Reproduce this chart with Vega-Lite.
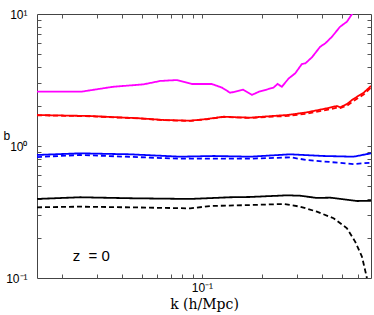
{
  "$schema": "https://vega.github.io/schema/vega-lite/v6.json",
  "width": 334,
  "height": 264,
  "autosize": {"type": "none"},
  "padding": {"left": 37, "top": 14, "right": 3, "bottom": 37},
  "background": "white",
  "config": {
    "view": {"stroke": "#444444", "strokeWidth": 1},
    "axis": {"grid": false, "labelFontSize": 12}
  },
  "datasets": {
    "curves": [
      {"k": 0.015, "b": 2.58, "c": "magenta", "s": "solid"},
      {"k": 0.025, "b": 2.58, "c": "magenta", "s": "solid"},
      {"k": 0.036, "b": 2.81, "c": "magenta", "s": "solid"},
      {"k": 0.051, "b": 2.93, "c": "magenta", "s": "solid"},
      {"k": 0.062, "b": 3.11, "c": "magenta", "s": "solid"},
      {"k": 0.075, "b": 3.16, "c": "magenta", "s": "solid"},
      {"k": 0.089, "b": 2.95, "c": "magenta", "s": "solid"},
      {"k": 0.112, "b": 2.95, "c": "magenta", "s": "solid"},
      {"k": 0.126, "b": 2.77, "c": "magenta", "s": "solid"},
      {"k": 0.1385, "b": 2.53, "c": "magenta", "s": "solid"},
      {"k": 0.161, "b": 2.67, "c": "magenta", "s": "solid"},
      {"k": 0.178, "b": 2.44, "c": "magenta", "s": "solid"},
      {"k": 0.192, "b": 2.57, "c": "magenta", "s": "solid"},
      {"k": 0.228, "b": 2.77, "c": "magenta", "s": "solid"},
      {"k": 0.239, "b": 2.95, "c": "magenta", "s": "solid"},
      {"k": 0.251, "b": 2.81, "c": "magenta", "s": "solid"},
      {"k": 0.271, "b": 3.24, "c": "magenta", "s": "solid"},
      {"k": 0.293, "b": 3.56, "c": "magenta", "s": "solid"},
      {"k": 0.316, "b": 4.18, "c": "magenta", "s": "solid"},
      {"k": 0.329, "b": 4.23, "c": "magenta", "s": "solid"},
      {"k": 0.355, "b": 4.70, "c": "magenta", "s": "solid"},
      {"k": 0.39, "b": 5.65, "c": "magenta", "s": "solid"},
      {"k": 0.414, "b": 6.0, "c": "magenta", "s": "solid"},
      {"k": 0.447, "b": 6.73, "c": "magenta", "s": "solid"},
      {"k": 0.49, "b": 8.0, "c": "magenta", "s": "solid"},
      {"k": 0.531, "b": 8.75, "c": "magenta", "s": "solid"},
      {"k": 0.57, "b": 10.3, "c": "magenta", "s": "solid"},

      {"k": 0.015, "b": 1.717, "c": "red", "s": "solid"},
      {"k": 0.0276, "b": 1.687, "c": "red", "s": "solid"},
      {"k": 0.0491, "b": 1.621, "c": "red", "s": "solid"},
      {"k": 0.0643, "b": 1.574, "c": "red", "s": "solid"},
      {"k": 0.0874, "b": 1.555, "c": "red", "s": "solid"},
      {"k": 0.1059, "b": 1.601, "c": "red", "s": "solid"},
      {"k": 0.1282, "b": 1.667, "c": "red", "s": "solid"},
      {"k": 0.1496, "b": 1.650, "c": "red", "s": "solid"},
      {"k": 0.1744, "b": 1.64, "c": "red", "s": "solid"},
      {"k": 0.228, "b": 1.69, "c": "red", "s": "solid"},
      {"k": 0.27, "b": 1.72, "c": "red", "s": "solid"},
      {"k": 0.335, "b": 1.80, "c": "red", "s": "solid"},
      {"k": 0.4217, "b": 1.93, "c": "red", "s": "solid"},
      {"k": 0.473, "b": 2.01, "c": "red", "s": "solid"},
      {"k": 0.4915, "b": 1.965, "c": "red", "s": "solid"},
      {"k": 0.5309, "b": 2.08, "c": "red", "s": "solid"},
      {"k": 0.5623, "b": 2.23, "c": "red", "s": "solid"},
      {"k": 0.5957, "b": 2.36, "c": "red", "s": "solid"},
      {"k": 0.6427, "b": 2.53, "c": "red", "s": "solid"},
      {"k": 0.70, "b": 2.85, "c": "red", "s": "solid"},

      {"k": 0.015, "b": 1.71, "c": "red", "s": "dashed"},
      {"k": 0.0276, "b": 1.68, "c": "red", "s": "dashed"},
      {"k": 0.0491, "b": 1.615, "c": "red", "s": "dashed"},
      {"k": 0.0643, "b": 1.57, "c": "red", "s": "dashed"},
      {"k": 0.0874, "b": 1.55, "c": "red", "s": "dashed"},
      {"k": 0.1059, "b": 1.595, "c": "red", "s": "dashed"},
      {"k": 0.1282, "b": 1.66, "c": "red", "s": "dashed"},
      {"k": 0.1496, "b": 1.645, "c": "red", "s": "dashed"},
      {"k": 0.1744, "b": 1.63, "c": "red", "s": "dashed"},
      {"k": 0.228, "b": 1.67, "c": "red", "s": "dashed"},
      {"k": 0.27, "b": 1.69, "c": "red", "s": "dashed"},
      {"k": 0.335, "b": 1.76, "c": "red", "s": "dashed"},
      {"k": 0.4217, "b": 1.88, "c": "red", "s": "dashed"},
      {"k": 0.473, "b": 1.95, "c": "red", "s": "dashed"},
      {"k": 0.4915, "b": 1.94, "c": "red", "s": "dashed"},
      {"k": 0.5309, "b": 2.02, "c": "red", "s": "dashed"},
      {"k": 0.5623, "b": 2.15, "c": "red", "s": "dashed"},
      {"k": 0.5957, "b": 2.28, "c": "red", "s": "dashed"},
      {"k": 0.6427, "b": 2.45, "c": "red", "s": "dashed"},
      {"k": 0.70, "b": 2.78, "c": "red", "s": "dashed"},

      {"k": 0.015, "b": 0.855, "c": "blue", "s": "solid"},
      {"k": 0.0246, "b": 0.880, "c": "blue", "s": "solid"},
      {"k": 0.0438, "b": 0.865, "c": "blue", "s": "solid"},
      {"k": 0.0779, "b": 0.830, "c": "blue", "s": "solid"},
      {"k": 0.1143, "b": 0.840, "c": "blue", "s": "solid"},
      {"k": 0.1744, "b": 0.830, "c": "blue", "s": "solid"},
      {"k": 0.2764, "b": 0.865, "c": "blue", "s": "solid"},
      {"k": 0.4055, "b": 0.840, "c": "blue", "s": "solid"},
      {"k": 0.5728, "b": 0.830, "c": "blue", "s": "solid"},
      {"k": 0.70, "b": 0.880, "c": "blue", "s": "solid"},

      {"k": 0.015, "b": 0.825, "c": "blue", "s": "dashed"},
      {"k": 0.0246, "b": 0.855, "c": "blue", "s": "dashed"},
      {"k": 0.0779, "b": 0.801, "c": "blue", "s": "dashed"},
      {"k": 0.1744, "b": 0.801, "c": "blue", "s": "dashed"},
      {"k": 0.2764, "b": 0.821, "c": "blue", "s": "dashed"},
      {"k": 0.335, "b": 0.783, "c": "blue", "s": "dashed"},
      {"k": 0.5728, "b": 0.730, "c": "blue", "s": "dashed"},
      {"k": 0.70, "b": 0.747, "c": "blue", "s": "dashed"},

      {"k": 0.015, "b": 0.397, "c": "black", "s": "solid"},
      {"k": 0.0246, "b": 0.409, "c": "black", "s": "solid"},
      {"k": 0.0438, "b": 0.402, "c": "black", "s": "solid"},
      {"k": 0.0874, "b": 0.397, "c": "black", "s": "solid"},
      {"k": 0.1385, "b": 0.409, "c": "black", "s": "solid"},
      {"k": 0.1744, "b": 0.411, "c": "black", "s": "solid"},
      {"k": 0.2661, "b": 0.423, "c": "black", "s": "solid"},
      {"k": 0.3103, "b": 0.420, "c": "black", "s": "solid"},
      {"k": 0.3758, "b": 0.404, "c": "black", "s": "solid"},
      {"k": 0.438, "b": 0.406, "c": "black", "s": "solid"},
      {"k": 0.5957, "b": 0.383, "c": "black", "s": "solid"},
      {"k": 0.70, "b": 0.385, "c": "black", "s": "solid"},

      {"k": 0.015, "b": 0.343, "c": "black", "s": "dashed"},
      {"k": 0.0246, "b": 0.347, "c": "black", "s": "dashed"},
      {"k": 0.0438, "b": 0.343, "c": "black", "s": "dashed"},
      {"k": 0.0874, "b": 0.337, "c": "black", "s": "dashed"},
      {"k": 0.110, "b": 0.351, "c": "black", "s": "dashed"},
      {"k": 0.1744, "b": 0.357, "c": "black", "s": "dashed"},
      {"k": 0.256, "b": 0.3636, "c": "black", "s": "dashed"},
      {"k": 0.3103, "b": 0.347, "c": "black", "s": "dashed"},
      {"k": 0.3758, "b": 0.318, "c": "black", "s": "dashed"},
      {"k": 0.455, "b": 0.2834, "c": "black", "s": "dashed"},
      {"k": 0.5309, "b": 0.238, "c": "black", "s": "dashed"},
      {"k": 0.5839, "b": 0.188, "c": "black", "s": "dashed"},
      {"k": 0.631, "b": 0.145, "c": "black", "s": "dashed"},
      {"k": 0.663, "b": 0.105, "c": "black", "s": "dashed"},
      {"k": 0.672, "b": 0.095, "c": "black", "s": "dashed"}
    ],
    "note": [{"k": 0.028, "b": 0.147, "label": "z\u00a0\u00a0= 0"}]
  },
  "layer": [
    {
      "data": {"name": "curves"},
      "mark": {"type": "line", "strokeWidth": 1.8, "clip": true},
      "encoding": {
        "x": {
          "field": "k", "type": "quantitative",
          "scale": {"type": "log", "domain": [0.015, 0.7], "nice": false},
          "axis": {
            "orient": "bottom",
            "values": [0.1],
            "labelExpr": "'10⁻¹'",
            "ticks": false,
            "domain": false,
            "labelFont": "Liberation Sans",
            "labelPadding": 4,
            "title": "k (h/Mpc)",
            "titleFont": "DejaVu Serif",
            "titleFontSize": 14,
            "titleFontWeight": "normal",
            "titleBaseline": "middle",
            "titleY": 26
          }
        },
        "y": {
          "field": "b", "type": "quantitative",
          "scale": {"type": "log", "domain": [0.1, 10], "nice": false},
          "axis": {
            "orient": "left",
            "values": [0.1, 1, 10],
            "labelExpr": "datum.value == 10 ? '10¹' : datum.value == 1 ? '10⁰' : '10⁻¹'",
            "ticks": false,
            "domain": false,
            "labelFont": "Liberation Sans",
            "labelPadding": 10,
            "title": "b",
            "titleFont": "Liberation Sans",
            "titleAngle": 0,
            "titleFontSize": 12,
            "titleFontWeight": "normal",
            "titleAlign": "left",
            "titleBaseline": "middle",
            "titleX": -34,
            "titleY": 121
          }
        },
        "color": {
          "field": "c", "type": "nominal",
          "scale": {"domain": ["magenta", "red", "blue", "black"], "range": ["#ff00ff", "#ff0000", "#0000ff", "#000000"]},
          "legend": null
        },
        "strokeDash": {
          "field": "s", "type": "nominal",
          "scale": {"domain": ["solid", "dashed"], "range": [[1, 0], [5, 3]]},
          "legend": null
        }
      }
    },
    {
      "data": {"name": "note"},
      "mark": {"type": "text", "fontSize": 15, "font": "Liberation Sans", "color": "#000000"},
      "encoding": {
        "x": {
          "field": "k", "type": "quantitative",
          "axis": {
            "orient": "top", "offset": -264, "tickSize": 4, "tickColor": "#555555", "tickWidth": 1, "domain": false,
            "values": [0.02, 0.03, 0.04, 0.05, 0.06, 0.07, 0.08, 0.09, 0.1, 0.2, 0.3, 0.4, 0.5, 0.6],
            "labels": false, "title": null
          }
        },
        "y": {
          "field": "b", "type": "quantitative",
          "axis": {
            "orient": "right", "offset": -334, "tickSize": 4, "tickColor": "#555555", "tickWidth": 1, "domain": false,
            "values": [0.2, 0.3, 0.4, 0.5, 0.6, 0.7, 0.8, 0.9, 1, 2, 3, 4, 5, 6, 7, 8, 9],
            "labels": false, "title": null
          }
        },
        "text": {"field": "label"}
      }
    },
    {
      "data": {"name": "note"},
      "mark": {"type": "point", "opacity": 0},
      "encoding": {
        "x": {
          "field": "k", "type": "quantitative",
          "axis": {
            "orient": "bottom", "offset": -264, "tickSize": 4, "tickColor": "#555555", "tickWidth": 1, "domain": false,
            "values": [0.02, 0.03, 0.04, 0.05, 0.06, 0.07, 0.08, 0.09, 0.1, 0.2, 0.3, 0.4, 0.5, 0.6],
            "labels": false, "title": null
          }
        },
        "y": {
          "field": "b", "type": "quantitative",
          "axis": {
            "orient": "left", "offset": -334, "tickSize": 4, "tickColor": "#555555", "tickWidth": 1, "domain": false,
            "values": [0.2, 0.3, 0.4, 0.5, 0.6, 0.7, 0.8, 0.9, 1, 2, 3, 4, 5, 6, 7, 8, 9],
            "labels": false, "title": null
          }
        }
      }
    }
  ],
  "resolve": {"axis": {"x": "independent", "y": "independent"}}
}
